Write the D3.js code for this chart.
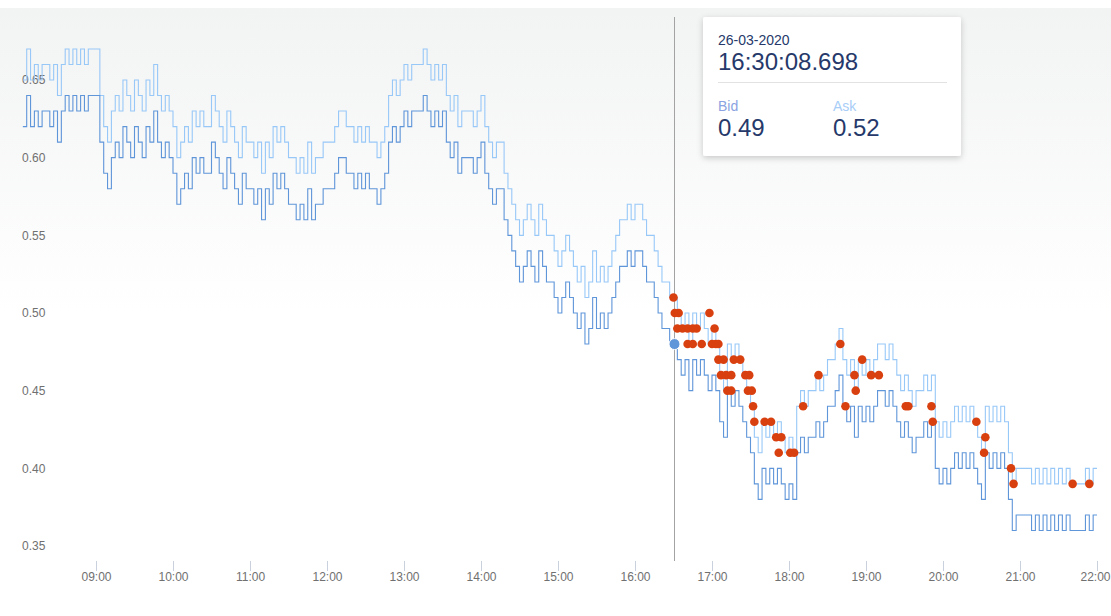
<!DOCTYPE html>
<html>
<head>
<meta charset="utf-8">
<script src="https://cdn.jsdelivr.net/npm/d3@7"></script>
<style>
  html, body { margin: 0; padding: 0; background: #fff; }
  body { width: 1111px; height: 616px; overflow: hidden; }
  svg { display: block; font-family: "Liberation Sans", Arial, sans-serif; }
</style>
</head>
<body>
<div id="chart"></div>
<script>
// 画布尺寸
var WIDTH = 1111, HEIGHT = 616;

// 数据: 每 3 分钟一个报价, 从 08:03 开始, 单位: 分
var seriesStart = "2020-03-26 08:03";
var seriesEnd = "2020-03-26 22:00";

var bidCents = [
  62,64,62,63,62,63,63,62,63,61,63,64,63,64,63,64,63,64,64,          // 08
  64,61,59,58,60,61,60,62,61,60,62,61,60,62,61,63,61,60,61,60,       // 09
  59,57,58,59,58,60,59,60,59,59,61,60,59,58,60,59,58,57,59,58,       // 10
  58,57,58,56,58,57,59,58,59,58,57,57,56,57,56,58,56,57,57,58,       // 11
  58,58,59,60,60,59,59,58,59,58,59,58,58,57,58,59,61,62,61,62,       // 12
  63,62,63,63,63,64,63,62,63,62,63,61,60,61,59,60,60,60,59,60,       // 13
  61,59,58,57,58,58,56,55,54,53,52,53,54,53,52,54,53,52,52,51,       // 14
  50,51,52,51,50,49,50,48,49,51,49,50,49,50,51,52,53,53,54,53,       // 15
  54,54,53,52,52,51,50,49,49,48,48,47,46,47,45,47,46,47,46,45,       // 16
  46,45,43,42,45,44,45,44,43,42,41,39,38,40,39,40,39,40,39,38,       // 17
  39,38,41,42,41,42,42,43,42,43,44,44,45,46,44,43,44,42,44,43,       // 18
  44,43,44,45,45,44,45,44,43,42,43,42,41,42,42,43,42,43,40,39,       // 19
  40,39,40,41,40,41,40,41,40,39,38,41,40,41,40,41,40,38,36,37,       // 20
  37,37,37,36,37,36,37,36,37,36,37,36,37,36,36,36,36,37,36,37        // 21
];

var askCents = [
  65,67,65,66,65,66,66,65,66,64,66,67,66,67,66,67,66,67,67,          // 08
  67,64,62,61,63,64,63,65,64,63,65,64,63,65,64,66,64,63,64,63,       // 09
  62,60,61,62,61,63,62,63,62,62,64,63,62,61,63,62,61,60,62,61,       // 10
  61,60,61,59,61,60,62,61,62,61,60,60,59,60,59,61,59,60,60,61,       // 11
  61,61,62,63,63,62,62,61,62,61,62,61,61,60,61,62,64,65,64,65,       // 12
  66,65,66,66,66,67,66,65,66,65,66,64,63,64,62,63,63,63,62,63,       // 13
  64,62,61,60,61,61,59,58,57,56,55,56,57,56,55,57,56,55,55,54,       // 14
  53,54,55,54,53,52,53,51,52,54,52,53,52,53,54,55,56,56,57,56,       // 15
  57,57,56,55,55,54,53,52,52,51,51,50,49,50,48,50,49,50,49,48,       // 16
  49,48,46,45,48,47,48,47,46,45,44,42,41,43,42,43,42,43,42,41,       // 17
  42,41,44,45,44,45,45,46,45,46,47,47,48,49,47,46,47,45,47,46,       // 18
  47,46,47,48,48,47,48,47,46,45,46,45,44,45,45,46,45,46,43,42,       // 19
  43,42,43,44,43,44,43,44,43,42,41,44,43,44,43,44,43,41,39,40,       // 20
  40,40,40,39,40,39,40,39,40,39,40,39,40,39,39,39,39,40,39,40        // 21
];

// 成交点
var tradeTimes = [
  "16:30","16:31","16:34","16:33","16:37","16:41","16:45","16:48","16:58","17:02",
  "16:41","16:45","16:52","17:00","17:03","17:05","17:05","17:09","17:17","17:22",
  "17:07","17:11","17:15","17:26","17:29","17:12","17:15","17:28","17:31","17:32",
  "17:33","17:41","17:46","17:50","17:54","17:52","18:01","18:04","18:11","18:23",
  "18:40","18:44","18:51","18:52","18:57","19:04","19:10","19:31","19:33","19:51",
  "19:52","20:26","20:33","20:32","20:53","20:55","21:41","21:54"
];
var tradePrices = [
  0.51,0.50,0.50,0.49,0.49,0.49,0.49,0.49,0.50,0.49,
  0.48,0.48,0.48,0.48,0.48,0.48,0.47,0.47,0.47,0.47,
  0.46,0.46,0.46,0.46,0.46,0.45,0.45,0.45,0.45,0.44,
  0.43,0.43,0.43,0.42,0.42,0.41,0.41,0.41,0.44,0.46,
  0.48,0.44,0.46,0.45,0.47,0.46,0.46,0.44,0.44,0.44,
  0.43,0.43,0.42,0.41,0.40,0.39,0.39,0.39
];

var yTicks = [0.35, 0.40, 0.45, 0.50, 0.55, 0.60, 0.65];
var hourTicks = ["09:00","10:00","11:00","12:00","13:00","14:00","15:00","16:00","17:00","18:00","19:00","20:00","21:00","22:00"];

// 十字线 / 提示框
var hoverTime = "2020-03-26 16:30:08.698";
var tipDate = "26-03-2020";
var tipTime = "16:30:08.698";
var tipBid = "0.49";
var tipAsk = "0.52";

var bidColor = "#5f95d9";
var askColor = "#98c8f8";
var tradeColor = "#d9400f";

var parseFull = d3.timeParse("%Y-%m-%d %H:%M");
var parseMs = d3.timeParse("%Y-%m-%d %H:%M:%S.%L");
var day = "2020-03-26 ";

var startDate = parseFull(seriesStart);
var endDate = parseFull(seriesEnd);

function toPoints(cents) {
  var pts = cents.map(function (c, i) {
    return { t: d3.timeMinute.offset(startDate, 3 * i), v: c / 100 };
  });
  // 最后一段延伸到收盘
  pts.push({ t: endDate, v: cents[cents.length - 1] / 100 });
  return pts;
}
var bidData = toPoints(bidCents);
var askData = toPoints(askCents);
var trades = tradeTimes.map(function (t, i) {
  return { t: parseFull(day + t), v: tradePrices[i] };
});

var svg = d3.select("#chart").append("svg")
  .attr("width", WIDTH)
  .attr("height", HEIGHT);

// 背景渐变
var defs = svg.append("defs");
var grad = defs.append("linearGradient")
  .attr("id", "bg").attr("x1", 0).attr("y1", 0).attr("x2", 0).attr("y2", 1);
grad.append("stop").attr("offset", "0%").attr("stop-color", "#f2f3f3");
grad.append("stop").attr("offset", "50%").attr("stop-color", "#ffffff");

var shadow = defs.append("filter").attr("id", "shadow")
  .attr("x", "-10%").attr("y", "-10%").attr("width", "120%").attr("height", "130%");
shadow.append("feDropShadow")
  .attr("dx", 0).attr("dy", 2).attr("stdDeviation", 3)
  .attr("flood-color", "#000").attr("flood-opacity", 0.2);

svg.append("rect")
  .attr("x", 0).attr("y", 8)
  .attr("width", WIDTH).attr("height", HEIGHT - 8)
  .attr("fill", "url(#bg)");

// 比例尺
var xScale = d3.scaleTime()
  .domain([parseFull(day + "08:00"), parseFull(day + "22:00")])
  .range([19, 1097]);

var yScale = d3.scaleLinear()
  .domain([0.35, 0.65])
  .range([546, 80]);

// y 轴
var yAxis = d3.axisLeft(yScale)
  .tickValues(yTicks)
  .tickSize(0)
  .tickPadding(0)
  .tickFormat(d3.format(".2f"));

var gy = svg.append("g")
  .attr("transform", "translate(22,0)")
  .call(yAxis);
gy.select(".domain").remove();
gy.selectAll("text")
  .attr("text-anchor", "start")
  .attr("x", 0)
  .style("font-size", "12px")
  .style("fill", "#707070")
  .style("font-family", "'Liberation Sans', Arial, sans-serif");

// x 轴
var xAxis = d3.axisBottom(xScale)
  .tickValues(hourTicks.map(function (h) { return parseFull(day + h); }))
  .tickSize(10)
  .tickPadding(1)
  .tickFormat(d3.timeFormat("%H:%M"));

var gx = svg.append("g")
  .attr("transform", "translate(0,561)")
  .call(xAxis);
gx.select(".domain").remove();
gx.selectAll("line").attr("stroke", "#c9d1df");
gx.selectAll("text")
  .style("font-size", "12px")
  .style("fill", "#707070")
  .style("font-family", "'Liberation Sans', Arial, sans-serif");
// 最后一个标签贴着右边, 稍微往左挪
gx.selectAll(".tick:last-of-type text").attr("x", -2);

// 报价折线
var stepLine = d3.line()
  .x(function (d) { return xScale(d.t); })
  .y(function (d) { return yScale(d.v); })
  .curve(d3.curveStepAfter);

svg.append("path")
  .datum(askData)
  .attr("fill", "none")
  .attr("stroke", askColor)
  .attr("stroke-width", 1.1)
  .attr("d", stepLine);

svg.append("path")
  .datum(bidData)
  .attr("fill", "none")
  .attr("stroke", bidColor)
  .attr("stroke-width", 1.1)
  .attr("d", stepLine);

// 十字线
var hoverDate = parseMs(hoverTime);
var hx = Math.round(xScale(hoverDate)) + 0.5;
svg.append("line")
  .attr("x1", hx).attr("x2", hx)
  .attr("y1", 17).attr("y2", 561)
  .attr("stroke", "#a3a3a3")
  .attr("stroke-width", 1);

// 成交点
svg.selectAll(".trade")
  .data(trades)
  .enter()
  .append("circle")
  .attr("class", "trade")
  .attr("cx", function (d) { return xScale(d.t); })
  .attr("cy", function (d) { return yScale(d.v); })
  .attr("r", 4.3)
  .attr("fill", tradeColor);

// 当前 bid 点
var hoverBid = bidData[d3.bisector(function (d) { return d.t; }).right(bidData, hoverDate) - 1];
svg.append("circle")
  .attr("cx", hx)
  .attr("cy", yScale(hoverBid.v))
  .attr("r", 5.5)
  .attr("fill", bidColor)
  .attr("stroke", "#fff")
  .attr("stroke-width", 1);

// 提示框
var tip = svg.append("g").attr("transform", "translate(703,17)");
tip.append("rect")
  .attr("width", 258).attr("height", 139)
  .attr("rx", 2)
  .attr("fill", "#fff")
  .attr("filter", "url(#shadow)");
tip.append("text").attr("x", 15).attr("y", 28)
  .style("font-size", "14px").style("fill", "#26396a").text(tipDate);
tip.append("text").attr("x", 15).attr("y", 53)
  .style("font-size", "24px").style("fill", "#26396a").text(tipTime);
tip.append("line")
  .attr("x1", 15).attr("x2", 244)
  .attr("y1", 65.5).attr("y2", 65.5)
  .attr("stroke", "#e2e2e2");
tip.append("text").attr("x", 15).attr("y", 94)
  .style("font-size", "14px").style("fill", "#8ba3e2").text("Bid");
tip.append("text").attr("x", 15).attr("y", 119)
  .style("font-size", "24px").style("fill", "#26396a").text(tipBid);
tip.append("text").attr("x", 130).attr("y", 94)
  .style("font-size", "14px").style("fill", "#a8cdf7").text("Ask");
tip.append("text").attr("x", 130).attr("y", 119)
  .style("font-size", "24px").style("fill", "#26396a").text(tipAsk);
</script>
</body>
</html>
